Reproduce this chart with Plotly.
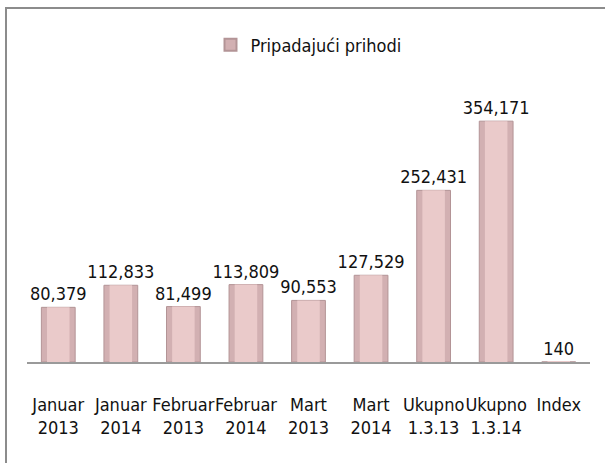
import plotly.graph_objects as go

categories = ["Januar<br>2013", "Januar<br>2014", "Februar<br>2013", "Februar<br>2014",
              "Mart<br>2013", "Mart<br>2014", "Ukupno<br>1.3.13", "Ukupno<br>1.3.14", "Index"]
values = [80379, 112833, 81499, 113809, 90553, 127529, 252431, 354171, 140]
series_name = "Pripadajući prihodi"

FONT = "'Liberation Sans Narrow', 'Arial Narrow', 'DejaVu Sans Condensed', 'Liberation Sans', sans-serif"
x_idx = list(range(len(categories)))

fig = go.Figure()
fig.add_trace(go.Bar(
    x=x_idx, y=values, name=series_name, width=0.54,
    marker=dict(color="#d2b0b2", line=dict(color="#b39496", width=1)),
    texttemplate="%{y:,}", textposition="outside", cliponaxis=False,
    constraintext="none",
    textfont=dict(family=FONT, size=18, color="#111111"),
    hoverinfo="skip",
))
fig.add_trace(go.Bar(
    x=x_idx, y=values, name=series_name, width=0.36, showlegend=False,
    marker=dict(color="#eacaca", line=dict(width=0)),
    hoverinfo="skip",
))

fig.update_layout(
    width=605, height=463,
    margin=dict(l=27, r=15, t=90, b=101),
    paper_bgcolor="white", plot_bgcolor="white",
    barmode="overlay",
    showlegend=True,
    legend=dict(orientation="h", x=0.5, xanchor="center", y=1.165, yanchor="middle",
                font=dict(family=FONT, size=18, color="#111111"),
                itemwidth=30, itemsizing="constant"),
    xaxis=dict(tickmode="array", tickvals=x_idx, ticktext=categories,
               range=[-0.5, len(categories) - 0.5], tickangle=0,
               automargin=False,
               showline=True, linecolor="#9a9a9a", linewidth=2,
               showgrid=False, zeroline=False,
               ticks="outside", ticklen=25, tickcolor="rgba(0,0,0,0)",
               tickfont=dict(family=FONT, size=18, color="#111111")),
    yaxis=dict(visible=False, range=[0, 400000], automargin=False),
    shapes=[dict(type="rect", xref="paper", yref="paper",
                 x0=-0.0373, x1=1.04, y0=-0.45, y1=1.3015,
                 line=dict(color="#8c8c8c", width=2), fillcolor="rgba(0,0,0,0)",
                 layer="below")],
)

fig.write_html("out.html", config={"displayModeBar": False},
               post_script="document.body.style.margin='0px';")
